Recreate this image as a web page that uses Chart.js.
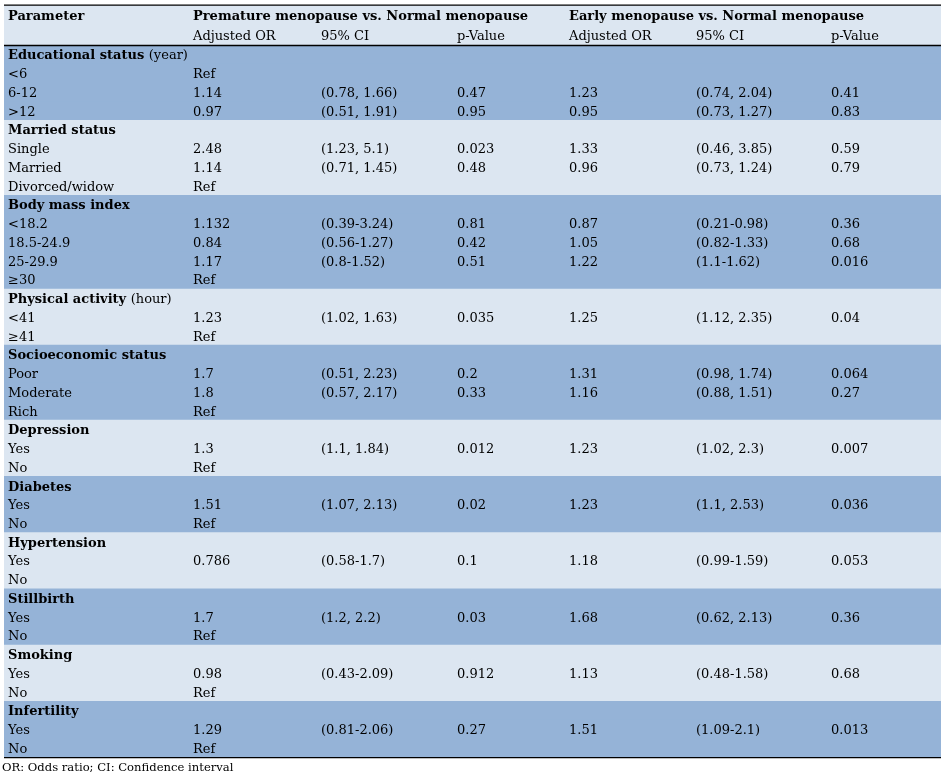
<!DOCTYPE html>
<html>
<head>
<meta charset="utf-8">
<script src="https://cdn.jsdelivr.net/npm/chart.js@4.4.1/dist/chart.umd.min.js"></script>
<style>
  html, body { margin: 0; padding: 0; background: #fff; }
  canvas { display: block; }
</style>
</head>
<body>
<canvas id="or-table" width="947" height="777"></canvas>
<script>
const headers = ['Parameter', 'Premature menopause vs. Normal menopause', 'Early menopause vs. Normal menopause'];
const subHeaders = ['Adjusted OR', '95% CI', 'p-Value'];
const groups = ['Educational status', 'Married status', 'Body mass index', 'Physical activity',
  'Socioeconomic status', 'Depression', 'Diabetes', 'Hypertension', 'Stillbirth', 'Smoking', 'Infertility'];
const groupNotes = ['(year)', '', '', '(hour)', '', '', '', '', '', '', ''];
const levels = [
  ['<6', '6-12', '>12'],
  ['Single', 'Married', 'Divorced/widow'],
  ['<18.2', '18.5-24.9', '25-29.9', '≥30'],
  ['<41', '≥41'],
  ['Poor', 'Moderate', 'Rich'],
  ['Yes', 'No'],
  ['Yes', 'No'],
  ['Yes', 'No'],
  ['Yes', 'No'],
  ['Yes', 'No'],
  ['Yes', 'No']
];
const prematureOR = [
  ['Ref', 1.14, 0.97],
  [2.48, 1.14, 'Ref'],
  [1.132, 0.84, 1.17, 'Ref'],
  [1.23, 'Ref'],
  [1.7, 1.8, 'Ref'],
  [1.3, 'Ref'],
  [1.51, 'Ref'],
  [0.786, null],
  [1.7, 'Ref'],
  [0.98, 'Ref'],
  [1.29, 'Ref']
];
const prematureCI = [
  [null, '(0.78, 1.66)', '(0.51, 1.91)'],
  ['(1.23, 5.1)', '(0.71, 1.45)', null],
  ['(0.39-3.24)', '(0.56-1.27)', '(0.8-1.52)', null],
  ['(1.02, 1.63)', null],
  ['(0.51, 2.23)', '(0.57, 2.17)', null],
  ['(1.1, 1.84)', null],
  ['(1.07, 2.13)', null],
  ['(0.58-1.7)', null],
  ['(1.2, 2.2)', null],
  ['(0.43-2.09)', null],
  ['(0.81-2.06)', null]
];
const prematureP = [
  [null, 0.47, 0.95],
  [0.023, 0.48, null],
  [0.81, 0.42, 0.51, null],
  [0.035, null],
  [0.2, 0.33, null],
  [0.012, null],
  [0.02, null],
  [0.1, null],
  [0.03, null],
  [0.912, null],
  [0.27, null]
];
const earlyOR = [
  [null, 1.23, 0.95],
  [1.33, 0.96, null],
  [0.87, 1.05, 1.22, null],
  [1.25, null],
  [1.31, 1.16, null],
  [1.23, null],
  [1.23, null],
  [1.18, null],
  [1.68, null],
  [1.13, null],
  [1.51, null]
];
const earlyCI = [
  [null, '(0.74, 2.04)', '(0.73, 1.27)'],
  ['(0.46, 3.85)', '(0.73, 1.24)', null],
  ['(0.21-0.98)', '(0.82-1.33)', '(1.1-1.62)', null],
  ['(1.12, 2.35)', null],
  ['(0.98, 1.74)', '(0.88, 1.51)', null],
  ['(1.02, 2.3)', null],
  ['(1.1, 2.53)', null],
  ['(0.99-1.59)', null],
  ['(0.62, 2.13)', null],
  ['(0.48-1.58)', null],
  ['(1.09-2.1)', null]
];
const earlyP = [
  [null, 0.41, 0.83],
  [0.59, 0.79, null],
  [0.36, 0.68, 0.016, null],
  [0.04, null],
  [0.064, 0.27, null],
  [0.007, null],
  [0.036, null],
  [0.053, null],
  [0.36, null],
  [0.68, null],
  [0.013, null]
];
const footnote = 'OR: Odds ratio; CI: Confidence interval';

// flatten groups + levels into body rows
const rows = [];
groups.forEach((g, gi) => {
  rows.push({ kind: 'group', g: gi });
  levels[gi].forEach((lv, li) => {
    rows.push({
      kind: 'level', g: gi,
      cells: [lv, prematureOR[gi][li], prematureCI[gi][li], prematureP[gi][li],
        earlyOR[gi][li], earlyCI[gi][li], earlyP[gi][li]]
    });
  });
});

const LIGHT = '#dce6f1';
const DARK = '#95b3d7';
const X_MAX = 937;
const HEAD_ROW_H = 20.2;
const FONT = '"DejaVu Serif", serif';

const tableText = {
  id: 'tableText',
  beforeDatasetsDraw(chart) {
    // header band sits just above the body rows
    const { ctx, scales: { x, y } } = chart;
    ctx.save();
    ctx.fillStyle = LIGHT;
    ctx.fillRect(x.left, y.top - 2 * HEAD_ROW_H, x.right - x.left, 2 * HEAD_ROW_H);
    ctx.restore();
  },
  afterDatasetsDraw(chart, args, opts) {
    const { ctx, scales: { x, y } } = chart;
    const cols = opts.columns.map(c => x.getPixelForValue(c));
    const fmt = v => (v === null || v === undefined) ? '' : String(v);
    ctx.save();
    ctx.fillStyle = '#000';
    ctx.textBaseline = 'middle';

    // header
    const h1 = y.top - 1.5 * HEAD_ROW_H + 1.1;
    const h2 = y.top - 0.5 * HEAD_ROW_H + 1.1;
    ctx.font = 'bold 13px ' + FONT;
    ctx.fillText(headers[0], cols[0], h1);
    ctx.fillText(headers[1], cols[1], h1);
    ctx.fillText(headers[2], cols[4], h1);
    ctx.font = '13px ' + FONT;
    subHeaders.forEach((s, k) => {
      ctx.fillText(s, cols[1 + k], h2);
      ctx.fillText(s, cols[4 + k], h2);
    });

    // body
    rows.forEach((row, i) => {
      const cy = y.getPixelForValue(i) + 1.2;
      if (row.kind === 'group') {
        ctx.font = 'bold 13px ' + FONT;
        ctx.fillText(groups[row.g], cols[0], cy);
        if (groupNotes[row.g]) {
          const w = ctx.measureText(groups[row.g] + ' ').width;
          ctx.font = '13px ' + FONT;
          ctx.fillText(groupNotes[row.g], cols[0] + w, cy);
        }
      } else {
        ctx.font = '13px ' + FONT;
        row.cells.forEach((c, k) => ctx.fillText(fmt(c), cols[k], cy));
      }
    });

    // horizontal rules: top, below header, bottom
    ctx.strokeStyle = '#000';
    ctx.lineWidth = 1.3;
    [y.top - 2 * HEAD_ROW_H, y.top, y.bottom].forEach(py => {
      ctx.beginPath();
      ctx.moveTo(x.left, py);
      ctx.lineTo(x.right, py);
      ctx.stroke();
    });

    ctx.font = '11.6px ' + FONT;
    ctx.fillText(footnote, x.left - 2, y.bottom + 10.5);
    ctx.restore();
  }
};

new Chart(document.getElementById('or-table'), {
  type: 'bar',
  data: {
    labels: rows.map((r, i) => 'r' + i),
    datasets: [{
      data: rows.map(() => [0, X_MAX]),
      backgroundColor: rows.map(r => r.g % 2 === 0 ? DARK : LIGHT),
      borderWidth: 0,
      barPercentage: 1,
      categoryPercentage: 1,
      inflateAmount: 0.5
    }]
  },
  options: {
    indexAxis: 'y',
    responsive: false,
    animation: false,
    layout: { padding: { left: 4, right: 6, top: 45.5, bottom: 19.3 } },
    scales: {
      x: { type: 'linear', min: 0, max: X_MAX, display: false },
      y: { type: 'category', display: false }
    },
    plugins: {
      legend: { display: false },
      tooltip: { enabled: false },
      tableText: { columns: [4, 189, 317, 453, 565, 692, 827] }
    }
  },
  plugins: [tableText]
});
</script>
</body>
</html>
